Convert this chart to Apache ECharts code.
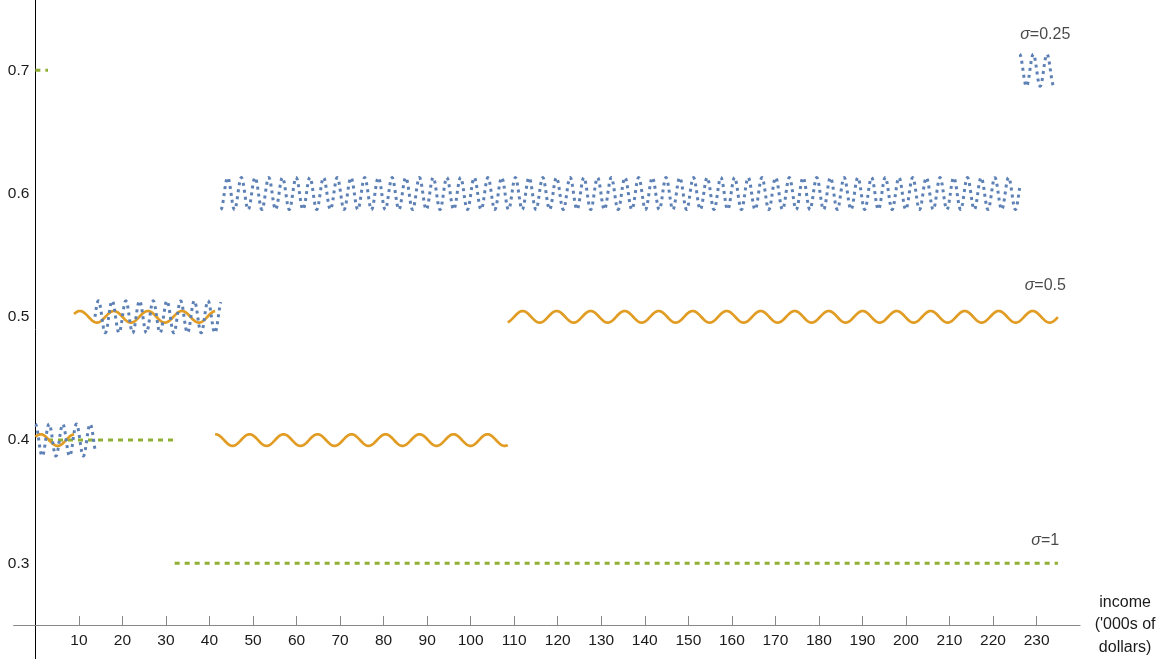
<!DOCTYPE html>
<html>
<head>
<meta charset="utf-8">
<script src="https://cdn.jsdelivr.net/npm/echarts@6/dist/echarts.min.js"></script>
<style>
html,body{margin:0;padding:0;background:#fff;}
#chart{width:1165px;height:659px;}
</style>
</head>
<body>
<div id="chart"></div>
<script>
// ---- data: step segments [xStart, xEnd, value] (income in '000s of dollars) ----
var sigma025 = [[0, 13.7, 0.4], [13.7, 42.6, 0.5], [42.6, 226.1, 0.6], [226.1, 234.2, 0.7]];
var sigma05  = [[0, 8.9, 0.4], [8.9, 41.3, 0.5], [41.3, 108.5, 0.4], [108.5, 234.9, 0.5]];
var sigma1   = [[0, 2.9, 0.7], [2.9, 32, 0.4], [32, 234.9, 0.3]];
var xTicks = [10,20,30,40,50,60,70,80,90,100,110,120,130,140,150,160,170,180,190,200,210,220,230];
var yTicks = [0.3, 0.4, 0.5, 0.6, 0.7];
var curveLabels = [[232, 0.729, '0.25'], [232, 0.5255, '0.5'], [232, 0.3185, '1']];

// ---- styles ----
var FONT = '"Liberation Sans", Arial, sans-serif';
var wave025 = {color: '#5E81B5', amp: 16, wl: 13.7, width: 3, dash: [3, 4], phases: [1.57, 0, -1.57, 1.57]};
var wave05  = {color: '#E19C24', amp: 5.8, wl: 34, width: 2.7, dash: null, phases: [0.6, 0.5, 1.5, -1.2]};
var wave1   = {color: '#8FB032', amp: 0, wl: 10, width: 3, dash: [5, 5], phases: [0, 0, 0]};

var GRID_LEFT = 13.6, GRID_RIGHT = 84.9, X_MIN = -5, X_MAX = 240;
var PLOT_W = 1165 - GRID_LEFT - GRID_RIGHT;
var Y_AXIS_SHIFT = (0 - X_MIN) / (X_MAX - X_MIN) * PLOT_W;

function wavyRender(st) {
  return function (params, api) {
    var x0 = api.value(0), x1 = api.value(1), y = api.value(2);
    var p0 = api.coord([x0, y]), p1 = api.coord([x1, y]);
    var ph = st.phases[params.dataIndex] || 0;
    var len = p1[0] - p0[0];
    var n = Math.max(2, Math.ceil(len / 0.5) + 1);
    var pts = [];
    for (var i = 0; i < n; i++) {
      var px = p0[0] + len * i / (n - 1);
      var py = p0[1] - st.amp * Math.sin(2 * Math.PI * (px - p0[0]) / st.wl + ph);
      pts.push([px, py]);
    }
    return {
      type: 'polyline',
      shape: {points: pts},
      style: {stroke: st.color, lineWidth: st.width, lineDash: st.dash, fill: null, lineCap: 'butt', lineJoin: 'round'}
    };
  };
}

function segSeries(name, data, st) {
  return {
    name: name, type: 'custom', data: data,
    encode: {x: [0, 1], y: 2},
    renderItem: wavyRender(st),
    silent: true, animation: false
  };
}

var chart = echarts.init(document.getElementById('chart'), null, {renderer: 'canvas'});
chart.setOption({
  animation: false,
  backgroundColor: '#ffffff',
  grid: {left: GRID_LEFT, right: GRID_RIGHT, top: 0, bottom: 0, containLabel: false, outerBoundsMode: 'none'},
  xAxis: {
    type: 'value', min: X_MIN, max: X_MAX,
    offset: -34,
    name: "income\n('000s of\ndollars)",
    nameLocation: 'end', nameGap: 45,
    nameTextStyle: {fontFamily: FONT, fontSize: 16, color: '#1a1a1a', align: 'center', verticalAlign: 'middle', lineHeight: 22.5},
    axisLine: {onZero: false, lineStyle: {color: '#888', width: 1}},
    axisTick: {show: true, inside: true, length: 9, customValues: xTicks, lineStyle: {color: '#888', width: 1}},
    axisLabel: {customValues: xTicks, fontFamily: FONT, fontSize: 15.5, color: '#1a1a1a', margin: 8},
    splitLine: {show: false}
  },
  yAxis: {
    type: 'value', min: 0.2224, max: 0.757,
    offset: -Y_AXIS_SHIFT,
    axisLine: {onZero: false, lineStyle: {color: '#000', width: 1}},
    axisTick: {show: false},
    axisLabel: {customValues: yTicks, fontFamily: FONT, fontSize: 15.5, color: '#1a1a1a', margin: 6,
      formatter: function (v) { return v.toFixed(1); }},
    splitLine: {show: false}
  },
  series: [
    segSeries('σ=1', sigma1, wave1),
    segSeries('σ=0.5', sigma05, wave05),
    segSeries('σ=0.25', sigma025, wave025),
    {
      type: 'scatter', symbolSize: 0, silent: true,
      data: curveLabels,
      label: {
        show: true, position: 'inside',
        formatter: function (p) { return '{i|σ}{n|=' + p.value[2] + '}'; },
        rich: {
          i: {fontFamily: FONT, fontSize: 16, fontStyle: 'italic', color: '#1a1a1a'},
          n: {fontFamily: FONT, fontSize: 16, color: '#1a1a1a'}
        }
      }
    }
  ]
});
</script>
</body>
</html>
